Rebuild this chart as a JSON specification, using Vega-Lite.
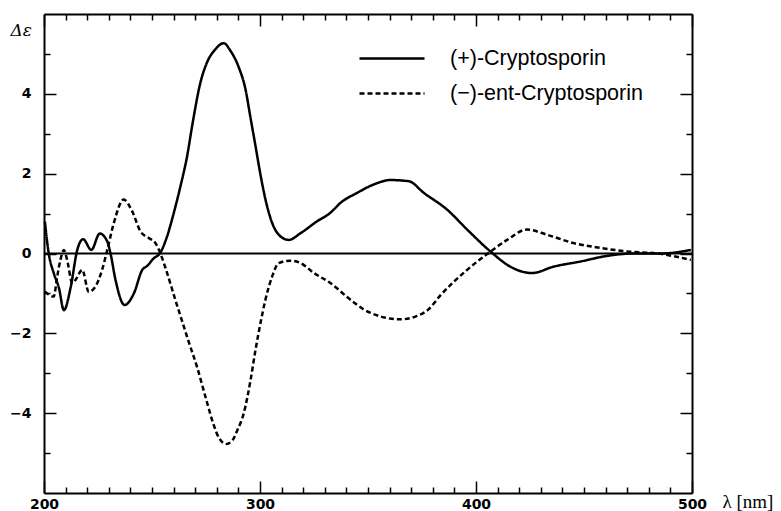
{
  "$schema": "https://vega.github.io/schema/vega-lite/v6.json",
  "width": 648,
  "height": 479,
  "autosize": {"type": "none"},
  "padding": {"left": 44, "top": 14, "right": 89, "bottom": 18},
  "background": "white",
  "config": {
    "view": {"stroke": null},
    "axis": {
      "grid": false,
      "domainColor": "black",
      "tickColor": "black",
      "labelColor": "black",
      "titleColor": "black",
      "labelFont": "DejaVu Sans",
      "labelFontWeight": "bold",
      "labelFontSize": 14,
      "labelFlush": false,
      "tickWidth": 1.5,
      "domainWidth": 2
    }
  },
  "datasets": {
    "cd": [
      {"wl": 200.4, "de": 0.8, "s": "(+)-Cryptosporin"},
      {"wl": 202.2, "de": 0.0, "s": "(+)-Cryptosporin"},
      {"wl": 204.5, "de": -0.49, "s": "(+)-Cryptosporin"},
      {"wl": 206.9, "de": -0.86, "s": "(+)-Cryptosporin"},
      {"wl": 209.2, "de": -1.42, "s": "(+)-Cryptosporin"},
      {"wl": 212.3, "de": -0.86, "s": "(+)-Cryptosporin"},
      {"wl": 215.4, "de": 0.09, "s": "(+)-Cryptosporin"},
      {"wl": 218.1, "de": 0.36, "s": "(+)-Cryptosporin"},
      {"wl": 221.9, "de": 0.09, "s": "(+)-Cryptosporin"},
      {"wl": 225.8, "de": 0.5, "s": "(+)-Cryptosporin"},
      {"wl": 229.3, "de": 0.3, "s": "(+)-Cryptosporin"},
      {"wl": 230.8, "de": 0.0, "s": "(+)-Cryptosporin"},
      {"wl": 233.1, "de": -0.66, "s": "(+)-Cryptosporin"},
      {"wl": 237.3, "de": -1.29, "s": "(+)-Cryptosporin"},
      {"wl": 241.6, "de": -1.0, "s": "(+)-Cryptosporin"},
      {"wl": 245.5, "de": -0.41, "s": "(+)-Cryptosporin"},
      {"wl": 247.8, "de": -0.31, "s": "(+)-Cryptosporin"},
      {"wl": 250.8, "de": -0.12, "s": "(+)-Cryptosporin"},
      {"wl": 253.6, "de": 0.0, "s": "(+)-Cryptosporin"},
      {"wl": 257.0, "de": 0.43, "s": "(+)-Cryptosporin"},
      {"wl": 260.1, "de": 1.02, "s": "(+)-Cryptosporin"},
      {"wl": 263.2, "de": 1.69, "s": "(+)-Cryptosporin"},
      {"wl": 266.3, "de": 2.45, "s": "(+)-Cryptosporin"},
      {"wl": 268.6, "de": 3.2, "s": "(+)-Cryptosporin"},
      {"wl": 272.5, "de": 4.3, "s": "(+)-Cryptosporin"},
      {"wl": 275.5, "de": 4.79, "s": "(+)-Cryptosporin"},
      {"wl": 279.4, "de": 5.12, "s": "(+)-Cryptosporin"},
      {"wl": 283.2, "de": 5.27, "s": "(+)-Cryptosporin"},
      {"wl": 286.3, "de": 5.08, "s": "(+)-Cryptosporin"},
      {"wl": 290.2, "de": 4.66, "s": "(+)-Cryptosporin"},
      {"wl": 293.3, "de": 4.11, "s": "(+)-Cryptosporin"},
      {"wl": 295.6, "de": 3.4, "s": "(+)-Cryptosporin"},
      {"wl": 297.9, "de": 2.7, "s": "(+)-Cryptosporin"},
      {"wl": 300.2, "de": 1.98, "s": "(+)-Cryptosporin"},
      {"wl": 302.5, "de": 1.36, "s": "(+)-Cryptosporin"},
      {"wl": 305.6, "de": 0.77, "s": "(+)-Cryptosporin"},
      {"wl": 308.7, "de": 0.47, "s": "(+)-Cryptosporin"},
      {"wl": 313.3, "de": 0.34, "s": "(+)-Cryptosporin"},
      {"wl": 318.8, "de": 0.51, "s": "(+)-Cryptosporin"},
      {"wl": 326.5, "de": 0.81, "s": "(+)-Cryptosporin"},
      {"wl": 332.6, "de": 1.02, "s": "(+)-Cryptosporin"},
      {"wl": 337.3, "de": 1.27, "s": "(+)-Cryptosporin"},
      {"wl": 345.0, "de": 1.52, "s": "(+)-Cryptosporin"},
      {"wl": 352.7, "de": 1.73, "s": "(+)-Cryptosporin"},
      {"wl": 360.4, "de": 1.84, "s": "(+)-Cryptosporin"},
      {"wl": 368.9, "de": 1.81, "s": "(+)-Cryptosporin"},
      {"wl": 375.8, "de": 1.52, "s": "(+)-Cryptosporin"},
      {"wl": 386.6, "de": 1.1, "s": "(+)-Cryptosporin"},
      {"wl": 395.9, "de": 0.6, "s": "(+)-Cryptosporin"},
      {"wl": 406.7, "de": 0.05, "s": "(+)-Cryptosporin"},
      {"wl": 415.9, "de": -0.33, "s": "(+)-Cryptosporin"},
      {"wl": 425.9, "de": -0.49, "s": "(+)-Cryptosporin"},
      {"wl": 435.9, "de": -0.33, "s": "(+)-Cryptosporin"},
      {"wl": 448.4, "de": -0.2, "s": "(+)-Cryptosporin"},
      {"wl": 460.7, "de": -0.06, "s": "(+)-Cryptosporin"},
      {"wl": 473.1, "de": 0.0, "s": "(+)-Cryptosporin"},
      {"wl": 485.5, "de": 0.0, "s": "(+)-Cryptosporin"},
      {"wl": 499.5, "de": 0.09, "s": "(+)-Cryptosporin"},
      {"wl": 200.4, "de": -0.95, "s": "(−)-ent-Cryptosporin"},
      {"wl": 201.5, "de": -1.0, "s": "(−)-ent-Cryptosporin"},
      {"wl": 204.5, "de": -1.08, "s": "(−)-ent-Cryptosporin"},
      {"wl": 206.1, "de": -0.58, "s": "(−)-ent-Cryptosporin"},
      {"wl": 207.6, "de": -0.16, "s": "(−)-ent-Cryptosporin"},
      {"wl": 209.2, "de": 0.09, "s": "(−)-ent-Cryptosporin"},
      {"wl": 210.7, "de": -0.16, "s": "(−)-ent-Cryptosporin"},
      {"wl": 213.1, "de": -0.74, "s": "(−)-ent-Cryptosporin"},
      {"wl": 214.6, "de": -0.66, "s": "(−)-ent-Cryptosporin"},
      {"wl": 217.7, "de": -0.41, "s": "(−)-ent-Cryptosporin"},
      {"wl": 220.7, "de": -0.96, "s": "(−)-ent-Cryptosporin"},
      {"wl": 223.8, "de": -0.83, "s": "(−)-ent-Cryptosporin"},
      {"wl": 226.9, "de": -0.41, "s": "(−)-ent-Cryptosporin"},
      {"wl": 229.3, "de": 0.09, "s": "(−)-ent-Cryptosporin"},
      {"wl": 232.3, "de": 0.76, "s": "(−)-ent-Cryptosporin"},
      {"wl": 236.9, "de": 1.35, "s": "(−)-ent-Cryptosporin"},
      {"wl": 240.8, "de": 1.06, "s": "(−)-ent-Cryptosporin"},
      {"wl": 244.7, "de": 0.55, "s": "(−)-ent-Cryptosporin"},
      {"wl": 248.5, "de": 0.39, "s": "(−)-ent-Cryptosporin"},
      {"wl": 251.6, "de": 0.26, "s": "(−)-ent-Cryptosporin"},
      {"wl": 253.9, "de": 0.0, "s": "(−)-ent-Cryptosporin"},
      {"wl": 257.0, "de": -0.49, "s": "(−)-ent-Cryptosporin"},
      {"wl": 260.8, "de": -1.16, "s": "(−)-ent-Cryptosporin"},
      {"wl": 263.8, "de": -1.67, "s": "(−)-ent-Cryptosporin"},
      {"wl": 266.8, "de": -2.18, "s": "(−)-ent-Cryptosporin"},
      {"wl": 270.9, "de": -2.85, "s": "(−)-ent-Cryptosporin"},
      {"wl": 274.8, "de": -3.6, "s": "(−)-ent-Cryptosporin"},
      {"wl": 278.6, "de": -4.3, "s": "(−)-ent-Cryptosporin"},
      {"wl": 281.0, "de": -4.62, "s": "(−)-ent-Cryptosporin"},
      {"wl": 284.4, "de": -4.77, "s": "(−)-ent-Cryptosporin"},
      {"wl": 287.1, "de": -4.69, "s": "(−)-ent-Cryptosporin"},
      {"wl": 289.4, "de": -4.44, "s": "(−)-ent-Cryptosporin"},
      {"wl": 292.5, "de": -4.0, "s": "(−)-ent-Cryptosporin"},
      {"wl": 295.6, "de": -3.18, "s": "(−)-ent-Cryptosporin"},
      {"wl": 297.9, "de": -2.42, "s": "(−)-ent-Cryptosporin"},
      {"wl": 300.2, "de": -1.75, "s": "(−)-ent-Cryptosporin"},
      {"wl": 302.5, "de": -1.16, "s": "(−)-ent-Cryptosporin"},
      {"wl": 305.6, "de": -0.58, "s": "(−)-ent-Cryptosporin"},
      {"wl": 308.7, "de": -0.24, "s": "(−)-ent-Cryptosporin"},
      {"wl": 314.1, "de": -0.18, "s": "(−)-ent-Cryptosporin"},
      {"wl": 318.8, "de": -0.24, "s": "(−)-ent-Cryptosporin"},
      {"wl": 325.0, "de": -0.49, "s": "(−)-ent-Cryptosporin"},
      {"wl": 332.6, "de": -0.74, "s": "(−)-ent-Cryptosporin"},
      {"wl": 341.9, "de": -1.16, "s": "(−)-ent-Cryptosporin"},
      {"wl": 348.0, "de": -1.4, "s": "(−)-ent-Cryptosporin"},
      {"wl": 356.0, "de": -1.58, "s": "(−)-ent-Cryptosporin"},
      {"wl": 365.0, "de": -1.65, "s": "(−)-ent-Cryptosporin"},
      {"wl": 372.0, "de": -1.58, "s": "(−)-ent-Cryptosporin"},
      {"wl": 378.0, "de": -1.4, "s": "(−)-ent-Cryptosporin"},
      {"wl": 383.5, "de": -1.05, "s": "(−)-ent-Cryptosporin"},
      {"wl": 395.9, "de": -0.41, "s": "(−)-ent-Cryptosporin"},
      {"wl": 406.7, "de": 0.05, "s": "(−)-ent-Cryptosporin"},
      {"wl": 414.4, "de": 0.34, "s": "(−)-ent-Cryptosporin"},
      {"wl": 423.6, "de": 0.6, "s": "(−)-ent-Cryptosporin"},
      {"wl": 432.9, "de": 0.47, "s": "(−)-ent-Cryptosporin"},
      {"wl": 445.2, "de": 0.26, "s": "(−)-ent-Cryptosporin"},
      {"wl": 457.6, "de": 0.14, "s": "(−)-ent-Cryptosporin"},
      {"wl": 470.0, "de": 0.05, "s": "(−)-ent-Cryptosporin"},
      {"wl": 483.9, "de": 0.0, "s": "(−)-ent-Cryptosporin"},
      {"wl": 499.5, "de": -0.16, "s": "(−)-ent-Cryptosporin"}
    ]
  },
  "data": {"name": "cd"},
  "resolve": {"axis": {"x": "independent", "y": "independent"}},
  "layer": [
    {
      "data": {"values": [{}]},
      "mark": {"type": "rule", "color": "black", "strokeWidth": 2},
      "encoding": {
        "y": {"datum": 0, "type": "quantitative", "scale": {"domain": [-6, 6], "nice": false, "zero": false}, "axis": null}
      }
    },
    {
      "mark": {"type": "line", "strokeWidth": 2.5, "interpolate": "monotone", "color": "black"},
      "encoding": {
        "x": {
          "field": "wl", "type": "quantitative",
          "scale": {"domain": [200, 500], "nice": false, "zero": false},
          "axis": {
            "orient": "bottom", "values": [200, 300, 400, 500], "tickSize": -12, "labelPadding": 16,
            "title": "λ [nm]", "titleFont": "Liberation Serif", "titleFontWeight": "normal", "titleFontSize": 19,
            "titleAngle": 0, "titleX": 678, "titleY": 14, "titleAlign": "left", "titleBaseline": "alphabetic"
          }
        },
        "y": {
          "field": "de", "type": "quantitative",
          "scale": {"domain": [-6, 6], "nice": false, "zero": false},
          "axis": {
            "orient": "left", "values": [-4, -2, 0, 2, 4], "tickSize": -12, "labelPadding": 25,
            "title": "Δε", "titleFont": "DejaVu Serif", "titleFontStyle": "italic", "titleFontWeight": "normal", "titleFontSize": 17,
            "titleAngle": 0, "titleX": -34, "titleY": 21, "titleAlign": "left", "titleBaseline": "alphabetic"
          }
        },
        "strokeDash": {
          "field": "s", "type": "nominal",
          "scale": {"domain": ["(+)-Cryptosporin", "(−)-ent-Cryptosporin"], "range": [[1, 0], [5, 3]]},
          "legend": {
            "orient": "none", "legendX": 314, "legendY": 34, "title": null,
            "symbolType": "stroke", "symbolSize": 4225, "symbolStrokeWidth": 2.5, "symbolStrokeColor": "black",
            "labelFont": "Liberation Sans", "labelFontSize": 21.5, "labelLimit": 400, "labelOffset": 24,
            "clipHeight": 21, "rowPadding": 13, "padding": 0,
            "labelColor": "black"
          }
        }
      }
    },
    {
      "mark": {"type": "point", "opacity": 0},
      "encoding": {
        "x": {
          "field": "wl", "type": "quantitative",
          "axis": {
            "orient": "bottom", "values": [210, 220, 230, 240, 250, 260, 270, 280, 290, 310, 320, 330, 340, 350, 360, 370, 380, 390, 410, 420, 430, 440, 450, 460, 470, 480, 490],
            "tickSize": -6, "labels": false, "domain": false, "title": null
          }
        },
        "y": {
          "field": "de", "type": "quantitative",
          "axis": {"orient": "left", "values": [-5, -3, -1, 1, 3, 5], "tickSize": -6, "labels": false, "domain": false, "title": null}
        }
      }
    },
    {
      "mark": {"type": "point", "opacity": 0},
      "encoding": {
        "x": {
          "field": "wl", "type": "quantitative",
          "axis": {"orient": "top", "values": [200, 300, 400, 500], "tickSize": -12, "labels": false, "domain": true, "title": null}
        },
        "y": {
          "field": "de", "type": "quantitative",
          "axis": {"orient": "right", "values": [-4, -2, 0, 2, 4], "tickSize": -12, "labels": false, "domain": true, "title": null}
        }
      }
    },
    {
      "mark": {"type": "point", "opacity": 0},
      "encoding": {
        "x": {
          "field": "wl", "type": "quantitative",
          "axis": {
            "orient": "top", "values": [210, 220, 230, 240, 250, 260, 270, 280, 290, 310, 320, 330, 340, 350, 360, 370, 380, 390, 410, 420, 430, 440, 450, 460, 470, 480, 490],
            "tickSize": -6, "labels": false, "domain": false, "title": null
          }
        },
        "y": {
          "field": "de", "type": "quantitative",
          "axis": {"orient": "right", "values": [-5, -3, -1, 1, 3, 5], "tickSize": -6, "labels": false, "domain": false, "title": null}
        }
      }
    }
  ]
}
